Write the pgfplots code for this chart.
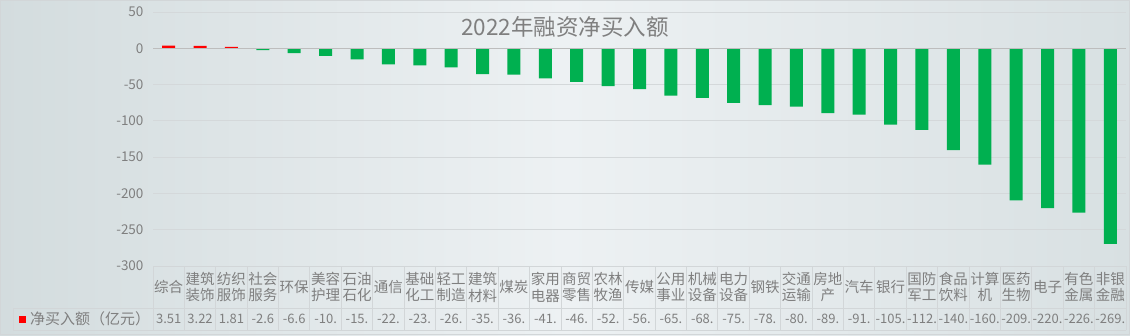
\documentclass[border=0pt]{standalone}
\usepackage{pgfplots}
\pgfplotsset{compat=1.18}
\usepackage{fontspec}
\setmainfont{Noto Sans CJK SC}
\definecolor{txt}{HTML}{7F7F7F}
\definecolor{gridc}{HTML}{D4D8DA}
\definecolor{zeroc}{HTML}{BDBDBD}
\definecolor{tabc}{HTML}{D2D6D8}
\definecolor{posc}{HTML}{FF0000}
\definecolor{negc}{HTML}{00B050}
\definecolor{bgl}{HTML}{D3DCDE}
\definecolor{bgm}{HTML}{EDF1F3}
\definecolor{bgr}{HTML}{D8E0E2}
\newcommand{\cell}[2]{\vbox{\offinterlineskip\hbox{\parbox[c][42bp][c]{31.4bp}{\centering\fontsize{14.5bp}{16.5bp}\selectfont #1}}\hbox{\parbox[c][22bp][c]{31.4bp}{\centering\fontsize{13bp}{15bp}\selectfont #2}}}}
\begin{document}
\begin{tikzpicture}[x=1bp,y=1bp]
\useasboundingbox (0,0) rectangle (1130,335);
\shade[left color=bgl, right color=bgr, middle color=bgm] (0,0) rectangle (1130,335);
\draw[tabc, line width=1bp] (0.5,0.5) rectangle (1129.5,334.5);
\begin{axis}[
  at={(153bp,69bp)}, anchor=south west,
  scale only axis, width=973bp, height=254bp,
  xmin=-0.5, xmax=30.5, ymin=-300, ymax=50,
  axis lines*=left, axis line style={draw=none},
  major tick length=0pt,
  ytick={-300,-250,...,50},
  ymajorgrids, grid style={gridc, line width=1bp},
  /pgf/number format/assume math mode=true,
  yticklabel style={text=txt, font=\fontsize{13.5bp}{15bp}\selectfont, xshift=-6bp},
  xtick={0,...,30},
  xticklabel style={anchor=north, inner sep=0pt, text=txt},
  xticklabels={
    {\cell{综合}{3.51}},{\cell{建筑\\装饰}{3.22}},{\cell{纺织\\服饰}{1.81}},{\cell{社会\\服务}{-2.6}},
    {\cell{环保}{-6.6}},{\cell{美容\\护理}{-10.}},{\cell{石油\\石化}{-15.}},{\cell{通信}{-22.}},
    {\cell{基础\\化工}{-23.}},{\cell{轻工\\制造}{-26.}},{\cell{建筑\\材料}{-35.}},{\cell{煤炭}{-36.}},
    {\cell{家用\\电器}{-41.}},{\cell{商贸\\零售}{-46.}},{\cell{农林\\牧渔}{-52.}},{\cell{传媒}{-56.}},
    {\cell{公用\\事业}{-65.}},{\cell{机械\\设备}{-68.}},{\cell{电力\\设备}{-75.}},{\cell{钢铁}{-78.}},
    {\cell{交通\\运输}{-80.}},{\cell{房地\\产}{-89.}},{\cell{汽车}{-91.}},{\cell{银行}{-105.}},
    {\cell{国防\\军工}{-112.}},{\cell{食品\\饮料}{-140.}},{\cell{计算\\机}{-160.}},{\cell{医药\\生物}{-209.}},
    {\cell{电子}{-220.}},{\cell{有色\\金属}{-226.}},{\cell{非银\\金融}{-269.}}},
  ybar, bar width=13bp, clip=false,
]
\addplot[ybar, bar shift=0pt, fill=posc, draw=none] coordinates {(0,3.51) (1,3.22) (2,1.81)};
\addplot[ybar, bar shift=0pt, fill=negc, draw=none] coordinates {
 (3,-2.6) (4,-6.6) (5,-10.5) (6,-15.4) (7,-22.3) (8,-23.4) (9,-26.3) (10,-35.5)
 (11,-36.4) (12,-41.3) (13,-46.2) (14,-52.3) (15,-56.2) (16,-65.3) (17,-68.2) (18,-75.3)
 (19,-78.2) (20,-80.4) (21,-89.2) (22,-91.3) (23,-105.3) (24,-112.4) (25,-140.2) (26,-160.3)
 (27,-209.4) (28,-220.3) (29,-226.3) (30,-269.4)};
\draw[zeroc, line width=1.3bp] (axis cs:-0.5,0) -- (axis cs:30.5,0);
\end{axis}
% data table grid
\draw[tabc, line width=1bp] (153,69) -- (1126,69);
\draw[tabc, line width=1bp] (13,27) -- (1126,27);
\draw[tabc, line width=1bp] (13,5) -- (1126,5);
\draw[tabc, line width=1bp] (13,5) -- (13,27);
\foreach \k in {0,...,31} {
  \draw[tabc, line width=1bp] ({153+\k*31.387},5) -- ({153+\k*31.387},69);
}
\fill[posc] (19,12.5) rectangle (26,19.5);
\node[anchor=west, text=txt, font=\fontsize{15bp}{17bp}\selectfont, inner sep=0pt] at (30,16) {净买入额（亿元）};
\node[text=txt, font=\fontsize{22.5bp}{25bp}\selectfont] at (565,308) {2022年融资净买入额};
\end{tikzpicture}
\end{document}
